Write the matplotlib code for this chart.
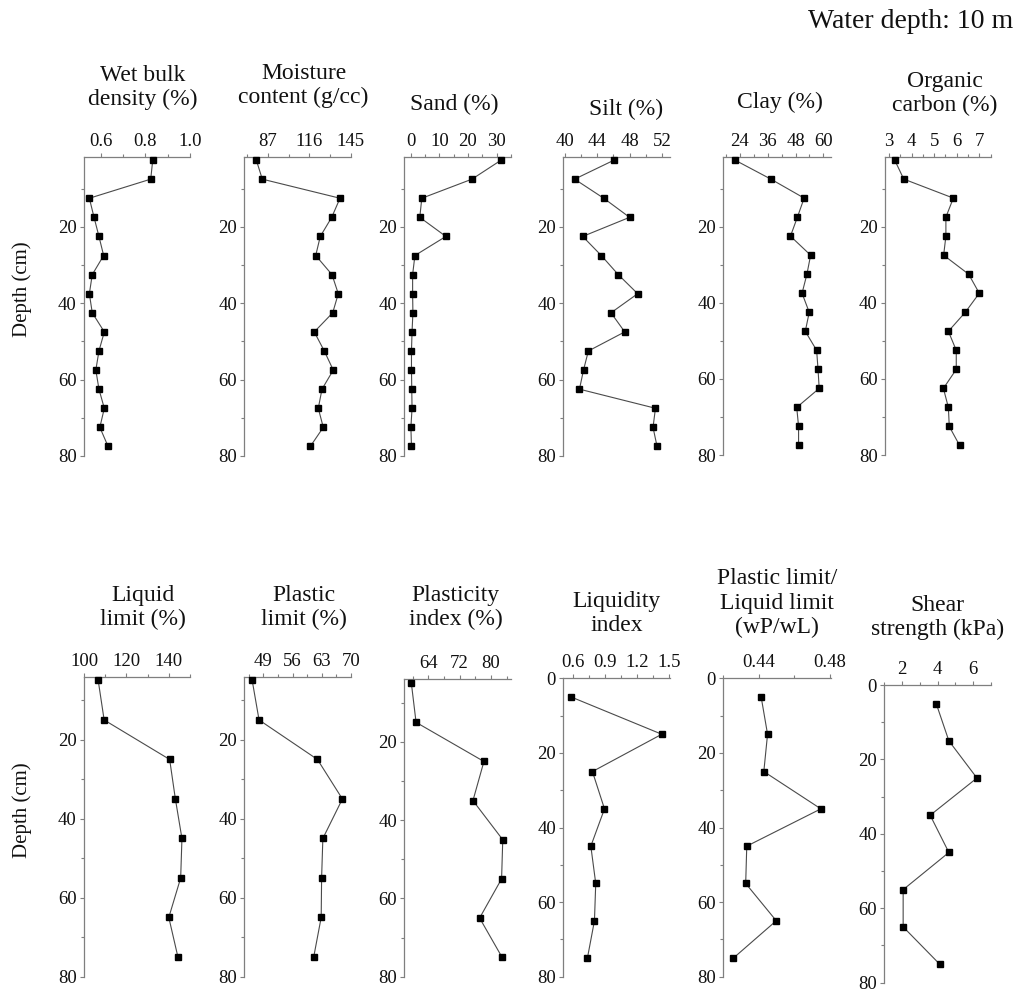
import matplotlib
matplotlib.use("Agg")
import matplotlib.pyplot as plt
from matplotlib.ticker import MultipleLocator

plt.rcParams['font.family'] = ['Liberation Serif', 'DejaVu Serif']

# ---- sampling depths (cm) ----
depth_top = [2.5, 7.5, 12.5, 17.5, 22.5, 27.5, 32.5, 37.5,
             42.5, 47.5, 52.5, 57.5, 62.5, 67.5, 72.5, 77.5]
depth_bottom = [5, 15, 25, 35, 45, 55, 65, 75]

# ---- upper row profiles ----
wet_bulk_density = [0.833, 0.824, 0.549, 0.570, 0.592, 0.613, 0.562, 0.549,
                    0.562, 0.616, 0.592, 0.578, 0.592, 0.616, 0.596, 0.633]
moisture_content = [78.9, 83.1, 137.5, 131.7, 123.7, 120.5, 131.9, 136.3,
                    132.4, 119.5, 126.5, 132.8, 124.9, 122.3, 125.8, 116.7]
sand = [31.6, 21.4, 3.9, 3.2, 12.3, 1.5, 0.7, 0.7,
        0.8, 0.5, 0.3, 0.3, 0.4, 0.5, 0.1, 0.3]
silt = [46.1, 41.2, 44.8, 48.0, 42.2, 44.5, 46.6, 49.0,
        45.7, 47.4, 42.9, 42.3, 41.8, 51.2, 50.9, 51.4]
clay = [21.8, 37.3, 51.7, 48.8, 45.8, 54.5, 52.9, 50.8,
        53.9, 52.2, 57.1, 57.7, 58.2, 48.5, 49.3, 49.3]
organic_carbon = [3.25, 3.65, 5.85, 5.52, 5.52, 5.42, 6.53, 7.0,
                  6.38, 5.63, 5.98, 5.98, 5.41, 5.63, 5.67, 6.13]

# ---- lower row profiles ----
liquid_limit = [106.7, 109.5, 140.4, 143.1, 146.2, 145.6, 140.0, 144.3]
plastic_limit = [46.3, 47.95, 62.0, 68.0, 63.3, 63.0, 62.9, 61.1]
plasticity_index = [59.7, 60.9, 78.2, 75.4, 83.0, 82.7, 77.1, 82.8]
liquidity_index = [0.578, 1.428, 0.778, 0.891, 0.763, 0.809, 0.797, 0.731]
wp_wl_ratio = [0.4413, 0.4449, 0.4428, 0.4749, 0.4332, 0.4326, 0.4498, 0.4257]
shear_strength = [3.92, 4.63, 6.21, 3.58, 4.63, 2.06, 2.06, 4.11]

titles_top = ["Wet bulk\ndensity (%)", "Moisture\ncontent (g/cc)", "Sand (%)",
              "Silt (%)", "Clay (%)", "Organic\ncarbon (%)"]
titles_bottom = ["Liquid\nlimit (%)", "Plastic\nlimit (%)", "Plasticity\nindex (%)",
                 "Liquidity\nindex", "Plastic limit/\nLiquid limit\n(wP/wL)",
                 "Shear\nstrength (kPa)"]

W, H = 1021, 992
fig = plt.figure(figsize=(W / 100, H / 100), dpi=100)

SPINE = '#7f7f7f'
LINE = '#4a4a4a'


def px_axes(l, t, r, b):
    return fig.add_axes([l / W, 1 - b / H, (r - l) / W, (b - t) / H])


def profile(box, x, depth, xlim, ylim, major, minor, title, title_base, title_dx=0):
    ax = px_axes(*box)
    ax.plot(x, depth, color=LINE, lw=0.8, marker='s', ms=4,
            mfc='black', mec='black', zorder=3, clip_on=False)
    ax.set_xlim(*xlim)
    ax.set_ylim(*ylim)
    ax.xaxis.set_major_locator(MultipleLocator(major))
    ax.xaxis.set_minor_locator(MultipleLocator(minor))
    ax.yaxis.set_major_locator(MultipleLocator(20))
    ax.yaxis.set_minor_locator(MultipleLocator(10))
    ax.xaxis.tick_top()
    for s in ('right', 'bottom'):
        ax.spines[s].set_visible(False)
    for s in ('left', 'top'):
        ax.spines[s].set_color(SPINE)
        ax.spines[s].set_linewidth(0.9)
    ax.tick_params(which='both', direction='out', color=SPINE, width=0.8,
                   labelsize=13.5, labelcolor='#111111')
    ax.tick_params(which='major', length=3.2, pad=2)
    ax.tick_params(which='minor', length=2)
    ax.tick_params(axis='x', which='both', top=True, bottom=False,
                   labeltop=True, labelbottom=False)
    l, t, r, b = box
    fig.text(((l + r) / 2 + title_dx) / W, 1 - title_base / H, title,
             ha='center', va='baseline', ma='center', fontsize=17,
             linespacing=1.2, color='#111111')
    return ax


top_boxes = [(84, 157, 190, 456), (244.3, 157, 350.7, 456), (404.3, 157, 511, 456),
             (563.3, 157, 670, 456), (723.3, 157, 831, 455), (885, 157, 991, 455)]
bottom_boxes = [(84, 677.3, 190, 976.7), (244.3, 677.3, 350.7, 976.7),
                (404.3, 679.3, 511, 976.7), (563.3, 678.3, 670, 976.7),
                (723.3, 678.3, 831, 976.7), (884.3, 685, 991, 982.7)]

top_series = [wet_bulk_density, moisture_content, sand, silt, clay, organic_carbon]
top_xlims = [(0.525, 1.0), (70.5, 145), (-2.2, 35), (39.8, 53), (16.8, 63.3), (2.82, 7.52)]
top_major = [0.2, 29, 10, 4, 12, 1]
top_minor = [0.1, 14.5, 5, 2, 6, 0.5]
top_base = [105, 103, 110, 115, 108, 111.5]
top_dx = [6, 6, -3, 9, 3, 7]

bottom_series = [liquid_limit, plastic_limit, plasticity_index,
                 liquidity_index, wp_wl_ratio, shear_strength]
bottom_xlims = [(100, 150), (44.4, 70), (57.9, 85.1), (0.505, 1.505), (0.42, 0.4806), (1, 7)]
bottom_ylims = [(80, 4.2), (80, 4.2), (80, 4.0), (80, 0), (80, 0), (80, 0)]
bottom_major = [20, 7, 8, 0.3, 0.04, 2]
bottom_minor = [10, 3.5, 4, 0.15, 0.02, 1]
bottom_base = [625, 625, 625, 631, 633, 635]
bottom_dx = [6, 6, -2, 0, 0, 0]

for i in range(6):
    profile(top_boxes[i], top_series[i], depth_top, top_xlims[i], (80, 1.7),
            top_major[i], top_minor[i], titles_top[i], top_base[i], top_dx[i])
for i in range(6):
    profile(bottom_boxes[i], bottom_series[i], depth_bottom, bottom_xlims[i],
            bottom_ylims[i], bottom_major[i], bottom_minor[i], titles_bottom[i],
            bottom_base[i], bottom_dx[i])

fig.text(22 / W, 1 - 289 / H, "Depth (cm)", rotation=90, ha='center', va='center',
         fontsize=15, color='#111111')
fig.text(22 / W, 1 - 810 / H, "Depth (cm)", rotation=90, ha='center', va='center',
         fontsize=15, color='#111111')
fig.text(1013 / W, 1 - 28 / H, "Water depth: 10 m", ha='right', va='baseline',
         fontsize=20, color='#111111')

fig.savefig("out.png", dpi=100, facecolor='white')
